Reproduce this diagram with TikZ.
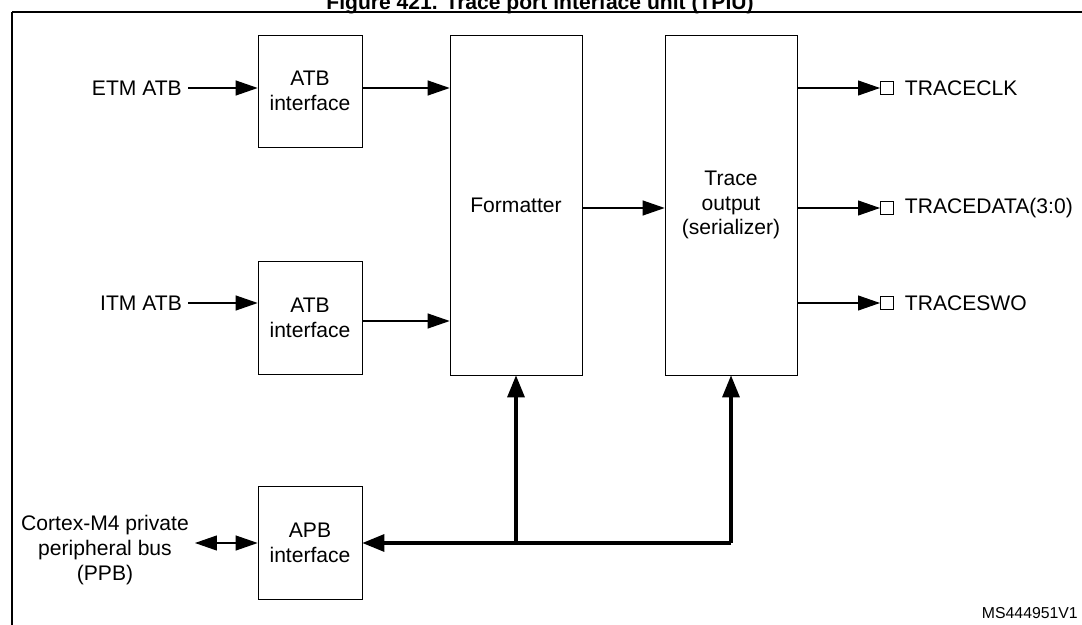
\documentclass[tikz,border=0pt]{standalone}
\usepackage{fontspec}
\setmainfont{Liberation Sans}
\usetikzlibrary{positioning}
\usetikzlibrary{arrows.meta}

\begin{document}
\begin{tikzpicture}[x=0.02cm,y=-0.02cm,
            font=\fontsize{12}{14}\selectfont,
            box/.style = {draw,align=center,inner sep=0pt},
            port/.style = {draw,minimum size=0.26cm,inner sep=0pt},
            sig/.style = {-{Triangle[length=4.4mm,width=3mm]},line width=0.6pt},
            bus/.style = {line width=1.8pt,-{Triangle[length=4.4mm,width=3.4mm]}}]
            \useasboundingbox (0,0) rectangle (1082,625);
            \draw[line width=0.8pt] (12,12) -- (1090,12) (12,12) -- (12,630);
            \node[font=\bfseries\fontsize{12}{14}\selectfont] (title) at (540,4) {Figure 421. Trace port interface unit (TPIU)};
            % blocks
            \node[box,minimum width=2.08cm,minimum height=2.24cm] (atb1) at (310,91) {ATB\\interface};
            \node[box,minimum width=2.08cm,minimum height=2.26cm] (atb2) at (310,318) {ATB\\interface};
            \node[box,minimum width=2.08cm,minimum height=2.26cm] (apb) at (310,543) {APB\\interface};
            \node[box,minimum width=2.64cm,minimum height=6.8cm] (fmt) at (516,205) {Formatter};
            \node[box,minimum width=2.64cm,minimum height=6.8cm] (trc) at (731,205) {Trace\\output\\(serializer)};
            % inputs
            \node[left] (etm) at (188,88) {ETM ATB};
            \node[left] (itm) at (188,303) {ITM ATB};
            \node[align=center] (ppb) at (105,550) {Cortex-M4 private\\peripheral bus\\(PPB)};
            \draw[sig] (etm.east) -- (etm.east -| atb1.west);
            \draw[sig] (itm.east) -- (itm.east -| atb2.west);
            \draw[sig] (atb1.east |- 0,88) -- (fmt.west |- 0,88);
            \draw[sig] (atb2.east |- 0,321) -- (fmt.west |- 0,321);
            \draw[sig] (fmt.east |- 0,208) -- (trc.west |- 0,208);
            \draw[{Triangle[length=4.4mm,width=3mm]}-{Triangle[length=4.4mm,width=3mm]},line width=0.6pt]
                (ppb.east |- apb.west) -- (apb.west);
            % outputs
            \foreach \y/\name/\txt in {88/clk/TRACECLK,208/data/TRACEDATA(3:0),303/swo/TRACESWO} {
                \node[port,anchor=west] (p\name) at (880,\y) {};
                \node[right=1mm of p\name] (l\name) {\txt};
                \draw[sig] (trc.east |- p\name) -- (p\name.west);
            }
            % bus
            \coordinate (split) at (fmt.center |- apb.east);
            \coordinate (corner) at (trc.center |- apb.east);
            \draw[bus] (corner) -- (apb.east);
            \draw[bus] (corner) -- (trc.south);
            \draw[bus] (split) -- (fmt.south);
            \node[anchor=south east,font=\fontsize{9}{10}\selectfont] (ref) at (1084,625) {MS444951V1};
\end{tikzpicture}
\end{document}
